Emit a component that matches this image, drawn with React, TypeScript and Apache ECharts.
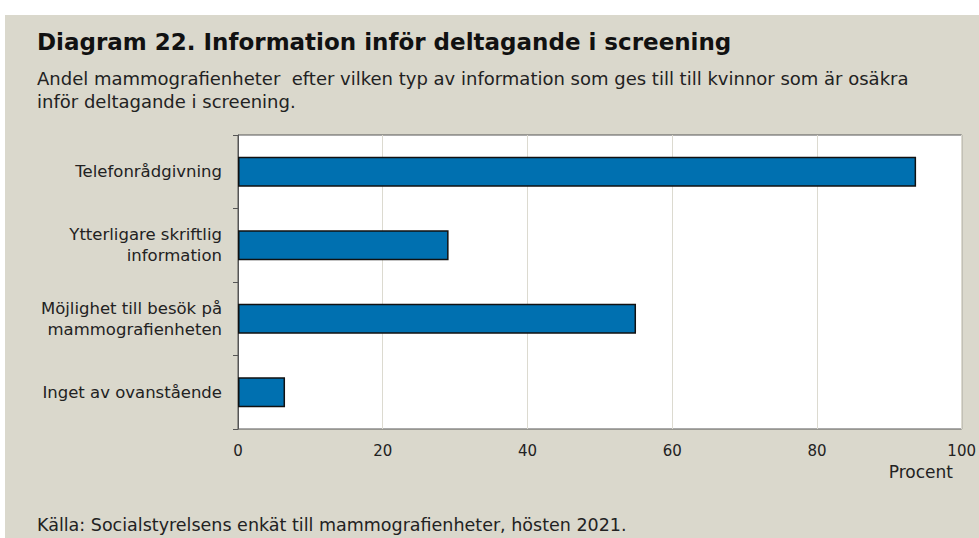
import React, { useEffect, useRef } from "react";
import * as echarts from "echarts";

const categories = [
  "Telefonrådgivning",
  "Ytterligare skriftlig\ninformation",
  "Möjlighet till besök på\nmammografienheten",
  "Inget av ovanstående",
];
const values = [93.7, 29.1, 55.0, 6.5];
const xTicks = [0, 20, 40, 60, 80, 100];

const title = "Diagram 22. Information inför deltagande i screening";
const subtitle1 =
  "Andel mammografienheter  efter vilken typ av information som ges till till kvinnor som är osäkra";
const subtitle2 = "inför deltagande i screening.";
const source = "Källa: Socialstyrelsens enkät till mammografienheter, hösten 2021.";
const unit = "Procent";

const FONT = "DejaVu Sans";

export default function App() {
  const ref = useRef<HTMLDivElement>(null);
  useEffect(() => {
    document.body.style.margin = "0";
    const chart = echarts.init(ref.current!, null, { renderer: "svg" });
    chart.setOption({
      animation: false,
      backgroundColor: "#ffffff",
      textStyle: { fontFamily: FONT },
      graphic: [
        {
          type: "rect",
          z: -10,
          silent: true,
          shape: { x: 5, y: 15, width: 979, height: 538 },
          style: { fill: "#dad8cc" },
        },
        {
          type: "text",
          left: 37,
          top: 30,
          style: { text: title, font: `bold 23px ${FONT}`, fill: "#111" },
        },
        {
          type: "text",
          left: 37,
          top: 69,
          style: { text: subtitle1, font: `18px ${FONT}`, fill: "#222" },
        },
        {
          type: "text",
          left: 37,
          top: 92,
          style: { text: subtitle2, font: `18px ${FONT}`, fill: "#222" },
        },
        {
          type: "text",
          left: 37,
          top: 516,
          style: { text: source, font: `17.5px ${FONT}`, fill: "#222" },
        },
        {
          type: "text",
          right: 26,
          top: 463,
          style: { text: unit, font: `17px ${FONT}`, fill: "#222" },
        },
      ],
      grid: {
        left: 238,
        top: 135,
        right: 15,
        bottom: 109,
        show: true,
        backgroundColor: "#ffffff",
        borderColor: "#555555",
        borderWidth: 1,
      },
      xAxis: {
        type: "value",
        min: 0,
        max: 100,
        interval: 20,
        axisLine: { show: false },
        axisTick: { show: false },
        axisLabel: {
          color: "#222",
          fontSize: 15,
          fontFamily: FONT,
          margin: 14,
          formatter: (v: number) => (xTicks.includes(v) ? String(v) : ""),
        },
        splitLine: { show: true, lineStyle: { color: "#dcdad0", width: 1 } },
      },
      yAxis: {
        type: "category",
        data: categories,
        inverse: true,
        axisLine: { show: true, lineStyle: { color: "#555555", width: 1 } },
        axisTick: {
          show: true,
          interval: 0,
          length: 5,
          lineStyle: { color: "#555555" },
        },
        axisLabel: {
          color: "#222",
          fontSize: 16.5,
          fontFamily: FONT,
          margin: 16,
          lineHeight: 21,
          align: "right",
        },
      },
      series: [
        {
          type: "bar",
          data: values,
          barWidth: 30,
          itemStyle: {
            color: "#0070b0",
            borderColor: "#111111",
            borderWidth: 1.5,
          },
        },
      ],
    });
    return () => chart.dispose();
  }, []);
  return <div ref={ref} style={{ width: 979, height: 538 }} />;
}
